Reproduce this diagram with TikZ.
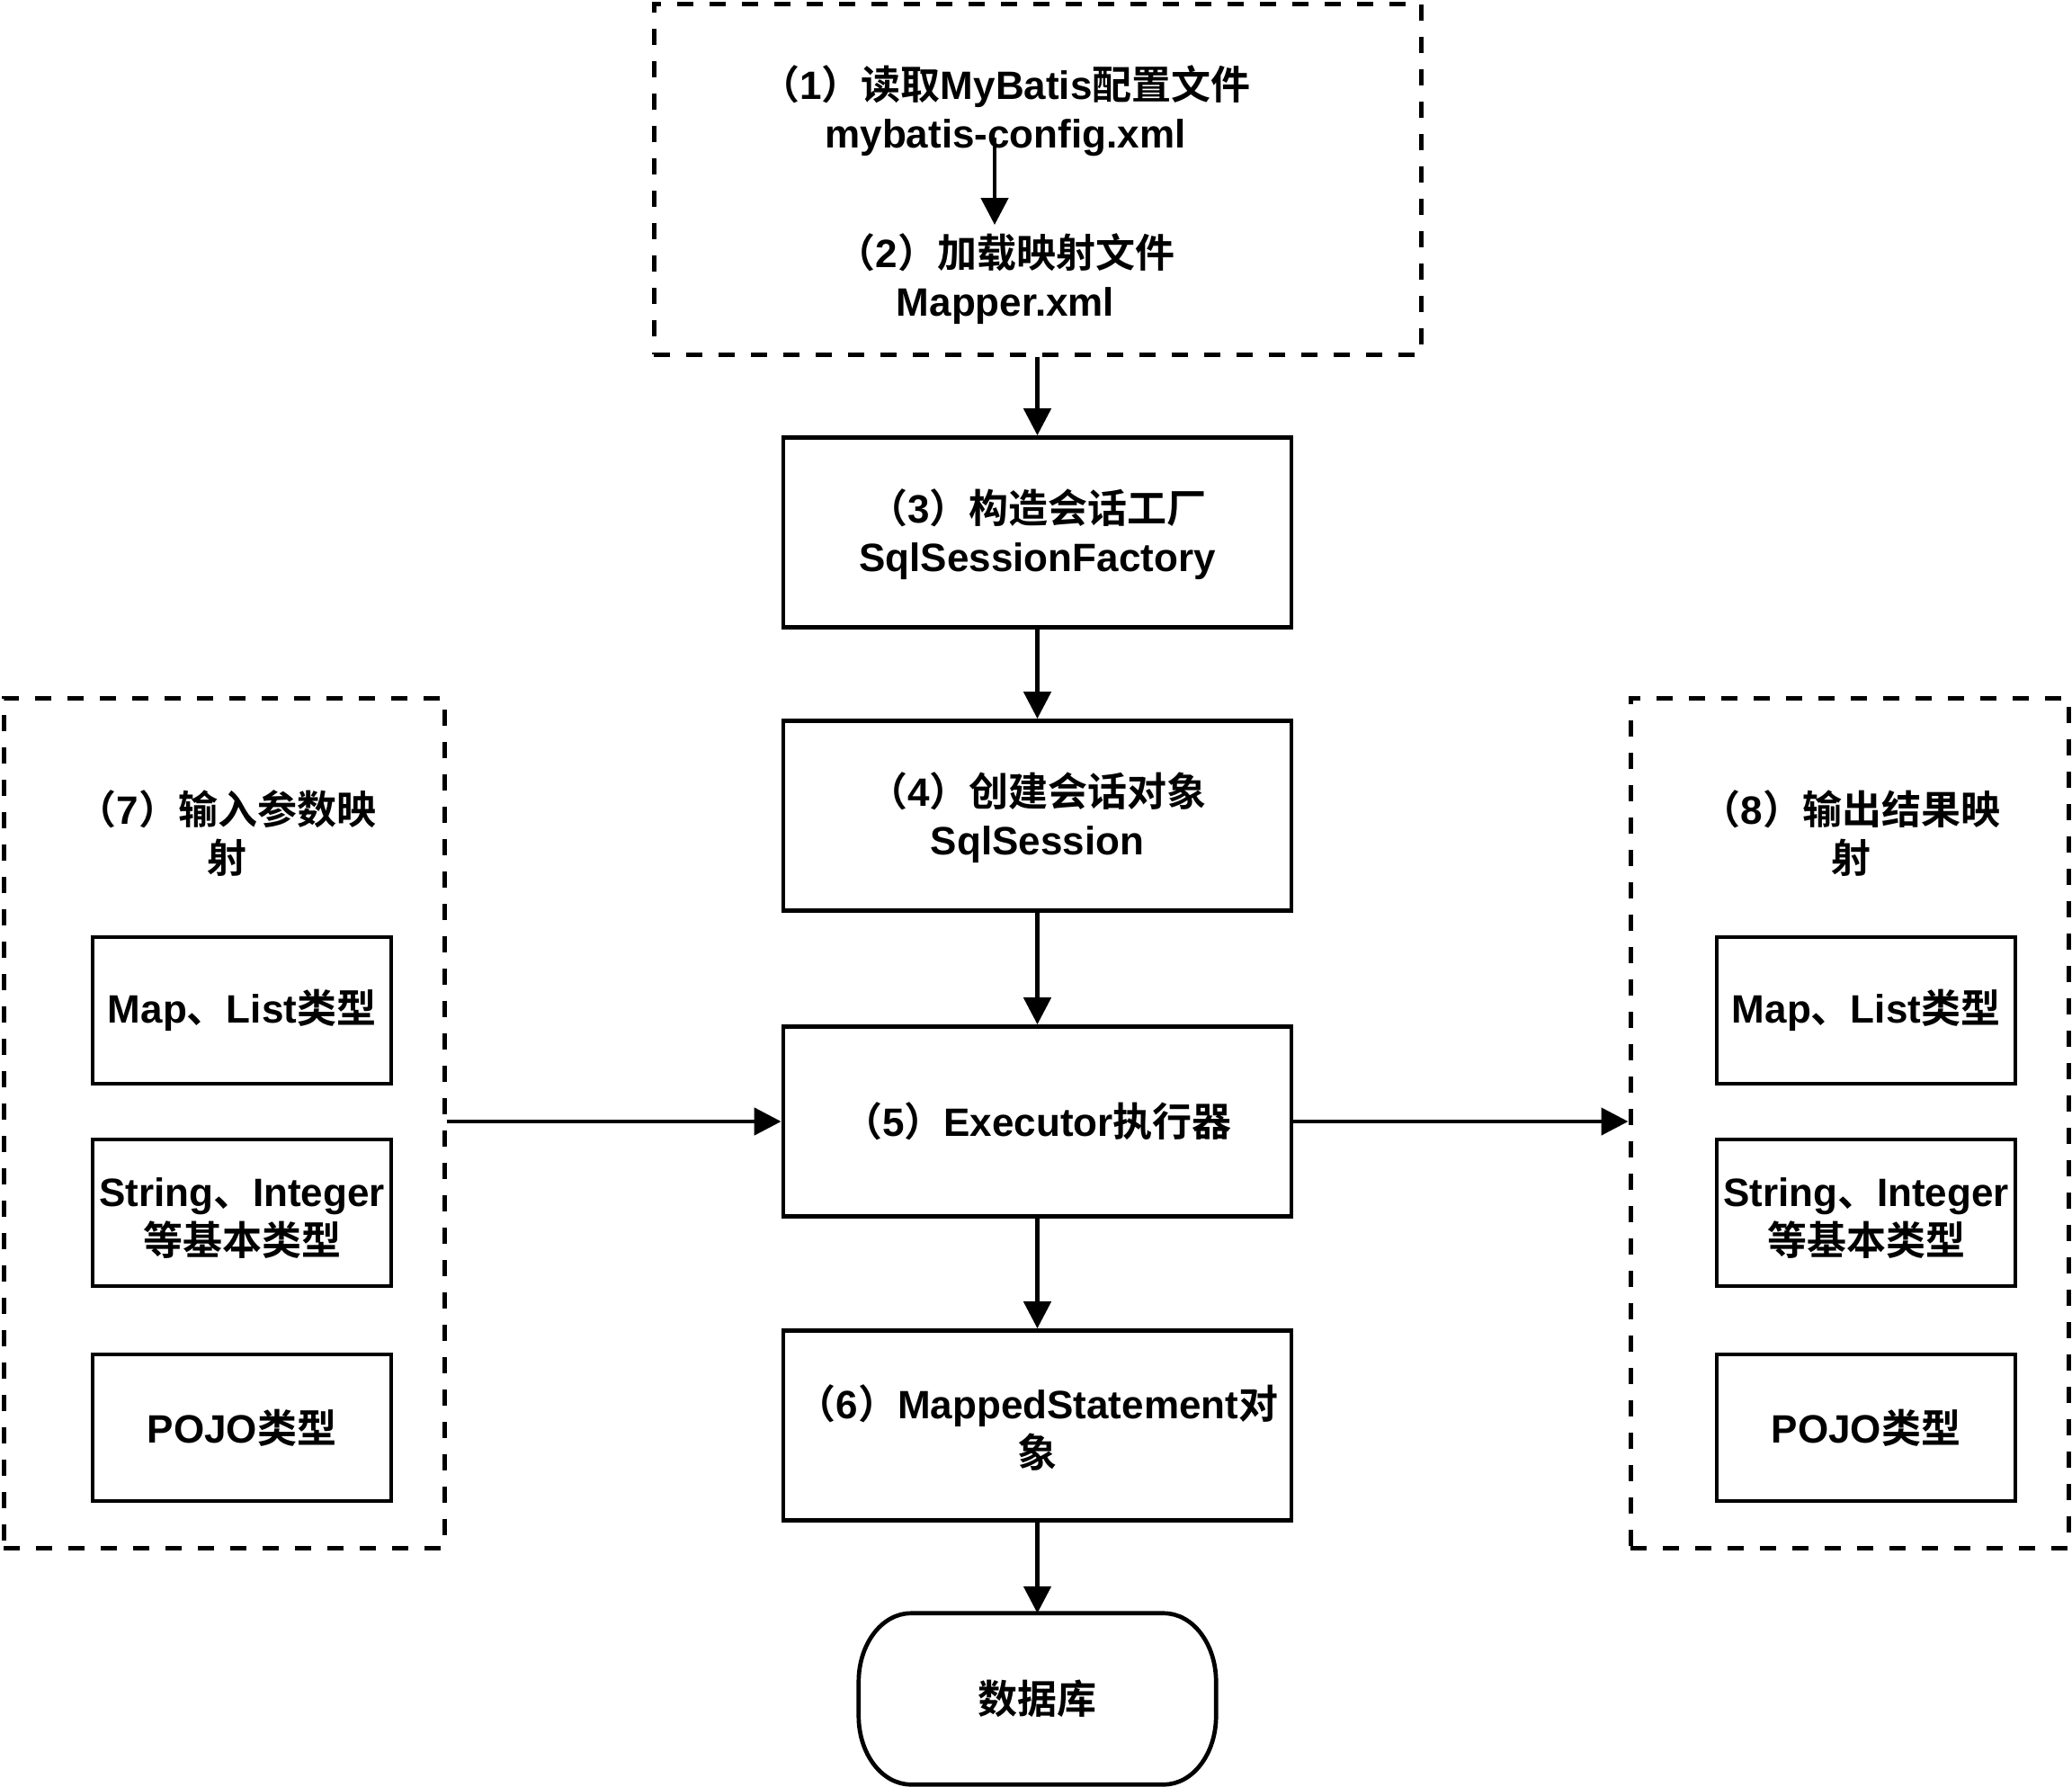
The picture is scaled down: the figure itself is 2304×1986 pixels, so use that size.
\documentclass[tikz,border=0pt]{standalone}
\usepackage{fontspec}
\setmainfont{Liberation Sans}
\newfontfamily\cjk{Noto Sans CJK SC}[BoldFont={Noto Sans CJK SC Bold}]
\usetikzlibrary{arrows.meta}
\newcommand\zhtxt[1]{{\cjk #1}}
\newcommand\firstline{\rule{0pt}{43pt}}
\begin{document}
\begin{tikzpicture}[x=1pt,y=1pt,
  txt/.style={font=\fontsize{44}{54}\selectfont\bfseries, align=center, inner sep=0pt},
  solidbox/.style={txt, draw, line width=4.7pt, minimum width=565pt, minimum height=211pt},
  smallbox/.style={txt, draw, line width=4.7pt, minimum width=332pt, minimum height=163pt},
  dashbox/.style={draw, line width=5pt, dash pattern=on 18pt off 18pt, inner sep=0pt},
  arr/.style={line width=4.7pt, -{Triangle[length=30pt,width=30pt]}}
]
\useasboundingbox (0,0) rectangle (2304,-1986);

% top dashed group
\node[dashbox, minimum width=853pt, minimum height=390pt] (topbox) at (1153.5,-199) {};
\node[txt] (t1) at (1118,-121) {\firstline\zhtxt{（}1\zhtxt{）读取}MyBatis\zhtxt{配置文件}\\mybatis-config.xml};
\node[txt] (t2) at (1118,-308) {\firstline\zhtxt{（}2\zhtxt{）加载映射文件}\\Mapper.xml};
\coordinate (a1) at (1106,-153);
\coordinate (a2) at (1106,-250);
\draw[arr] (a1) -- (a2);

% central column
\node[solidbox] (b3) at (1153.5,-592) {\firstline\zhtxt{（}3\zhtxt{）构造会话工厂}\\SqlSessionFactory};
\node[solidbox] (b4) at (1153.5,-907) {\firstline\zhtxt{（}4\zhtxt{）创建会话对象}\\SqlSession};
\node[solidbox] (b5) at (1153.5,-1247) {\zhtxt{（}5\zhtxt{）}Executor\zhtxt{执行器}};
\node[solidbox] (b6) at (1153.5,-1585) {\firstline\zhtxt{（}6\zhtxt{）}MappedStatement\zhtxt{对}\\\zhtxt{象}};
\node[txt, minimum width=397pt, minimum height=190pt] (db) at (1153.5,-1889) {\zhtxt{数据库}};
\draw[line width=4.7pt]
  ([xshift=58pt]db.north west) -- ([xshift=-58pt]db.north east)
  arc[start angle=90, end angle=0, x radius=58pt, y radius=76pt]
  -- ([yshift=76pt]db.south east)
  arc[start angle=0, end angle=-90, x radius=58pt, y radius=76pt]
  -- ([xshift=58pt]db.south west)
  arc[start angle=270, end angle=180, x radius=58pt, y radius=76pt]
  -- ([yshift=-76pt]db.north west)
  arc[start angle=180, end angle=90, x radius=58pt, y radius=76pt]
  -- cycle;

% left group
\node[dashbox, minimum width=490pt, minimum height=945pt] (left) at (249,-1248.5) {};
\node[txt] (lt) at (252,-924) {\firstline\zhtxt{（}7\zhtxt{）输入参数映}\\\zhtxt{射}};
\node[smallbox] (l1) at (269,-1123.5) {Map\zhtxt{、}List\zhtxt{类型}};
\node[smallbox] (l2) at (269,-1348.5) {\firstline String\zhtxt{、}Integer\\\zhtxt{等基本类型}};
\node[smallbox] (l3) at (269,-1587.5) {POJO\zhtxt{类型}};

% right group
\node[dashbox, minimum width=487pt, minimum height=945pt] (right) at (2056.5,-1248.5) {};
\node[txt] (rt) at (2058,-924) {\firstline\zhtxt{（}8\zhtxt{）输出结果映}\\\zhtxt{射}};
\node[smallbox] (r1) at (2075,-1123.5) {Map\zhtxt{、}List\zhtxt{类型}};
\node[smallbox] (r2) at (2075,-1348.5) {\firstline String\zhtxt{、}Integer\\\zhtxt{等基本类型}};
\node[smallbox] (r3) at (2075,-1587.5) {POJO\zhtxt{类型}};

% connectors
\draw[arr] (topbox.south -| b3.north) -- (b3.north);
\draw[arr] (b3.south) -- (b4.north);
\draw[arr] (b4.south) -- (b5.north);
\draw[arr] (b5.south) -- (b6.north);
\draw[arr] (b6.south) -- (db.north);
\draw[arr] (left.east |- b5.west) -- (b5.west);
\draw[arr] (b5.east) -- (right.west |- b5.east);
\end{tikzpicture}
\end{document}
